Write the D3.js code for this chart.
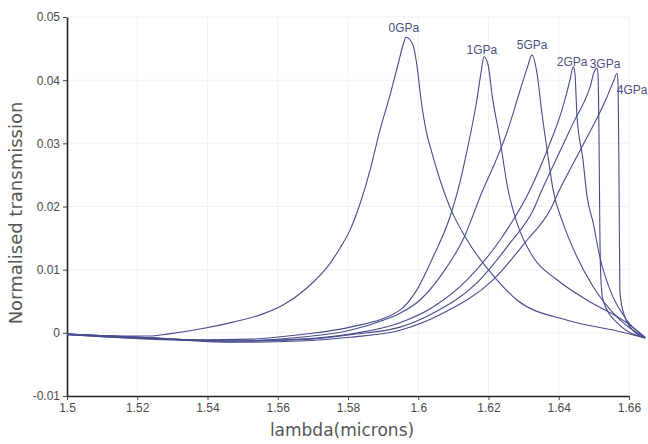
<!DOCTYPE html>
<html>
<head>
<meta charset="utf-8">
<script src="https://cdn.jsdelivr.net/npm/d3@7"></script>
<style>
  body { margin: 0; background: #fff; }
  svg { display: block; }
</style>
</head>
<body>
<div id="chart"></div>
<script>
// transmission spectra under pressure, one curve per GPa value

var seriesNames = ["0GPa", "1GPa", "5GPa", "2GPa", "3GPa", "4GPa"]

// [lambda (microns), normalised transmission]
var gpa0 = [[1.5,-0.0002],[1.5122,-0.0005],[1.5236,-0.0005],[1.5285,-0.0002],[1.5379,0.0006],[1.5473,0.0017],
  [1.5558,0.0030],[1.5615,0.0044],[1.5683,0.0071],[1.5749,0.0110],[1.5777,0.0134],[1.5806,0.0163],
  [1.5834,0.0204],[1.5863,0.0258],[1.5891,0.0321],[1.5920,0.0377],[1.5942,0.0424],[1.5957,0.0456],
  [1.5965,0.0468],[1.5985,0.0456],[1.5996,0.0424],[1.6008,0.0369],[1.6022,0.0321],[1.6039,0.0285],
  [1.6062,0.0242],[1.6090,0.0199],[1.6139,0.0147],[1.6224,0.0084],[1.6281,0.0052],[1.6424,0.0020],
  [1.6566,0.0003],[1.6646,-0.0008]]

var gpa1 = [[1.5,-0.0003],[1.5179,-0.0008],[1.5379,-0.0011],[1.5521,-0.0010],[1.5663,-0.0003],[1.5806,0.0009],
  [1.5948,0.0036],[1.5996,0.0068],[1.6042,0.0120],[1.6090,0.0183],[1.6113,0.0226],[1.6139,0.0289],
  [1.6167,0.0369],[1.6179,0.0413],[1.6187,0.0437],[1.6199,0.0424],[1.6210,0.0377],[1.6233,0.0305],
  [1.6253,0.0234],[1.6281,0.0174],[1.6327,0.0120],[1.6395,0.0084],[1.6480,0.0052],[1.6594,0.0016],
  [1.6646,-0.0007]]

var gpa5 = [[1.5,-0.0003],[1.5236,-0.0010],[1.5464,-0.0013],[1.5663,-0.0007],[1.5806,0.0004],[1.5900,0.0020],
  [1.5948,0.0031],[1.6005,0.0052],[1.6070,0.0095],[1.6127,0.0147],[1.6184,0.0226],[1.6219,0.0270],
  [1.6253,0.0318],[1.6290,0.0384],[1.6310,0.0419],[1.6324,0.0440],[1.6338,0.0411],[1.6352,0.0348],
  [1.6367,0.0289],[1.6384,0.0226],[1.6412,0.0174],[1.6452,0.0120],[1.6498,0.0073],[1.6566,0.0025],
  [1.6646,-0.0008]]

var gpa2 = [[1.5,-0.0002],[1.5236,-0.0008],[1.5464,-0.0013],[1.5663,-0.0010],[1.5806,-0.0002],[1.5948,0.0016],
  [1.6042,0.0041],[1.6139,0.0084],[1.6233,0.0147],[1.6318,0.0226],[1.6367,0.0289],[1.6412,0.0358],
  [1.6432,0.0400],[1.6441,0.0421],[1.6446,0.0411],[1.6452,0.0342],[1.6469,0.0274],[1.6480,0.0218],
  [1.6498,0.0174],[1.6517,0.0120],[1.6546,0.0068],[1.6594,0.0020],[1.6646,-0.0008]]

var gpa3 = [[1.5,-0.0002],[1.5236,-0.0008],[1.5464,-0.0013],[1.5663,-0.0011],[1.5806,-0.0003],[1.5948,0.0009],
  [1.6042,0.0031],[1.6167,0.0079],[1.6261,0.0142],[1.6327,0.0194],[1.6352,0.0226],[1.6392,0.0274],
  [1.6441,0.0332],[1.6489,0.0389],[1.6503,0.0416],[1.6509,0.0419],[1.6512,0.0408],[1.6515,0.0289],
  [1.6517,0.0163],[1.6520,0.0084],[1.6526,0.0052],[1.6566,0.0016],[1.6646,-0.0008]]

var gpa4 = [[1.5,-0.0002],[1.5236,-0.0008],[1.5464,-0.0015],[1.5663,-0.0013],[1.5806,-0.0007],[1.5948,0.0004],
  [1.6070,0.0031],[1.6213,0.0084],[1.6310,0.0147],[1.6375,0.0194],[1.6402,0.0226],[1.6461,0.0289],
  [1.6537,0.0373],[1.6557,0.0400],[1.6566,0.0411],[1.6569,0.0392],[1.6572,0.0210],[1.6574,0.0068],
  [1.6580,0.0041],[1.6611,0.0004],[1.6646,-0.0008]]

var xTicks = [1.5, 1.52, 1.54, 1.56, 1.58, 1.6, 1.62, 1.64, 1.66]
var xTickLabels = ["1.5", "1.52", "1.54", "1.56", "1.58", "1.6", "1.62", "1.64", "1.66"]
var yTicks = [-0.01, 0, 0.01, 0.02, 0.03, 0.04, 0.05]
var yTickLabels = ["-0.01", "0", "0.01", "0.02", "0.03", "0.04", "0.05"]

var allSeries = [gpa0, gpa1, gpa5, gpa2, gpa3, gpa4]

var width = 648
var height = 444
var margin = ({ top: 17, right: 19, bottom: 48, left: 67 })

// label offsets from each peak, in pixels
var labelOffsets = [[-2, -5], [-2, -3], [0, -6], [-1, -1], [8, 0], [15, 21]]

var svg = d3.select("#chart")
    .append("svg")
    .attr("width", width)
    .attr("height", height)

var x = d3.scaleLinear()
    .domain([1.5, 1.66])
    .range([margin.left, width - margin.right])

var y = d3.scaleLinear()
    .domain([-0.01, 0.05])
    .range([height - margin.bottom, margin.top])

// faint grid
svg.append("g")
    .attr("stroke", "#f1f1f1")
    .selectAll("line.v")
    .data(xTicks.slice(1))
    .join("line")
    .attr("x1", d => x(d)).attr("x2", d => x(d))
    .attr("y1", y(-0.01)).attr("y2", y(0.05))

svg.append("g")
    .attr("stroke", "#f1f1f1")
    .selectAll("line.h")
    .data(yTicks.slice(1))
    .join("line")
    .attr("x1", x(1.5)).attr("x2", x(1.66))
    .attr("y1", d => y(d)).attr("y2", d => y(d))

var xAxis = g => g
    .attr("transform", `translate(0,${y(-0.01)})`)
    .call(d3.axisBottom(x).tickValues(xTicks).tickFormat((d, i) => xTickLabels[i]).tickSize(4).tickSizeOuter(0))

var yAxis = g => g
    .attr("transform", `translate(${x(1.5)},0)`)
    .call(d3.axisLeft(y).tickValues(yTicks).tickFormat((d, i) => yTickLabels[i]).tickSize(4).tickSizeOuter(0))

var axisStyle = g => {
    g.select(".domain").attr("stroke", "#222").attr("stroke-width", 1.6)
    g.selectAll(".tick line").attr("stroke", "#444")
    g.selectAll(".tick text")
        .attr("fill", "#4a4a4a")
        .attr("font-family", "'Liberation Sans Narrow', 'Liberation Sans', sans-serif")
        .attr("font-size", 12)
}

svg.append("g").call(xAxis).call(axisStyle)
svg.append("g").call(yAxis).call(axisStyle)

// axis titles
svg.append("text")
    .attr("x", 342)
    .attr("y", 436)
    .attr("text-anchor", "middle")
    .attr("font-family", "'DejaVu Sans', sans-serif")
    .attr("font-size", 17)
    .attr("fill", "#555")
    .text("lambda(microns)")

svg.append("text")
    .attr("transform", "translate(22,213) rotate(-90)")
    .attr("text-anchor", "middle")
    .attr("font-family", "'DejaVu Sans', sans-serif")
    .attr("font-size", 18)
    .attr("fill", "#555")
    .text("Normalised transmission")

var line = d3.line()
    .x(d => x(d[0]))
    .y(d => y(d[1]))
    .curve(d3.curveMonotoneX)

svg.append("g")
    .attr("fill", "none")
    .attr("stroke", "#474c8c")
    .attr("stroke-width", 1.1)
    .attr("stroke-linejoin", "round")
    .selectAll("path")
    .data(allSeries)
    .join("path")
    .attr("d", d => line(d))

// peak labels
svg.append("g")
    .attr("font-family", "'Liberation Sans Narrow', 'Liberation Sans', sans-serif")
    .attr("font-size", 12)
    .attr("fill", "#4a4f80")
    .attr("text-anchor", "middle")
    .selectAll("text")
    .data(allSeries)
    .join("text")
    .attr("x", (d, i) => {
        var p = d3.greatest(d, v => v[1])
        return x(p[0]) + labelOffsets[i][0]
    })
    .attr("y", (d, i) => {
        var p = d3.greatest(d, v => v[1])
        return y(p[1]) + labelOffsets[i][1]
    })
    .text((d, i) => seriesNames[i])
</script>
</body>
</html>
